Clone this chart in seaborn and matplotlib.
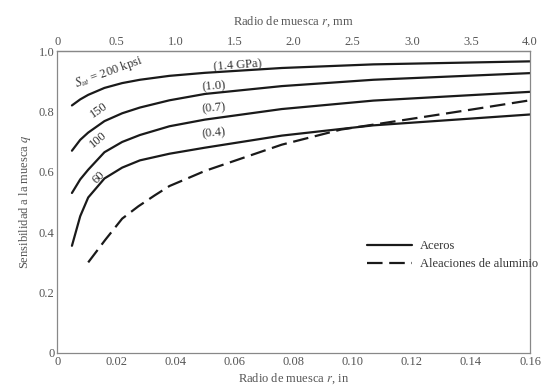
import numpy as np
import pandas as pd
import matplotlib.pyplot as plt
import seaborn as sns

# radio de muesca (in) y sensibilidad q
r_ac = [0.005, 0.0078, 0.0105, 0.016, 0.022, 0.028, 0.038, 0.05, 0.076, 0.107, 0.16]
q_200 = [0.82, 0.840, 0.855, 0.878, 0.894, 0.905, 0.918, 0.928, 0.944, 0.956, 0.966]
q_150 = [0.67, 0.706, 0.73, 0.768, 0.794, 0.813, 0.837, 0.858, 0.884, 0.905, 0.927]
q_100 = [0.53, 0.575, 0.607, 0.665, 0.699, 0.722, 0.751, 0.773, 0.808, 0.836, 0.865]
q_60 = [0.355, 0.453, 0.515, 0.578, 0.614, 0.638, 0.660, 0.68, 0.72, 0.754, 0.79]

r_al = [0.0105, 0.0163, 0.022, 0.0275, 0.033, 0.038, 0.0445, 0.05, 0.076, 0.096, 0.1175, 0.14, 0.16]
q_al = [0.30, 0.375, 0.445, 0.486, 0.522, 0.553, 0.58, 0.603, 0.69, 0.74, 0.772, 0.806, 0.837]

curvas = {"200": (r_ac, q_200, "Aceros"), "150": (r_ac, q_150, "Aceros"),
          "100": (r_ac, q_100, "Aceros"), "60": (r_ac, q_60, "Aceros"),
          "al": (r_al, q_al, "Aleaciones de aluminio")}
filas = []
for k, (rr, qq, mat) in curvas.items():
    for a, b in zip(rr, qq):
        filas.append({"r": a, "q": b, "curva": k, "material": mat})
df = pd.DataFrame(filas)

xticks = [0, 0.02, 0.04, 0.06, 0.08, 0.10, 0.12, 0.14, 0.16]
xlabels = ["0", "0.02", "0.04", "0.06", "0.08", "0.10", "0.12", "0.14", "0.16"]
yticks = [0, 0.2, 0.4, 0.6, 0.8, 1.0]
ylabels = ["0", "0.2", "0.4", "0.6", "0.8", "1.0"]
mm_ticks = [0, 0.5, 1.0, 1.5, 2.0, 2.5, 3.0, 3.5, 4.0]
mm_labels = ["0", "0.5", "1.0", "1.5", "2.0", "2.5", "3.0", "3.5", "4.0"]

sns.set_style("white")
plt.rcParams['font.family'] = ['Liberation Serif', 'DejaVu Serif']
plt.rcParams['mathtext.fontset'] = 'stix'
gris = "#555555"

fig = plt.figure(figsize=(5.55, 3.9), dpi=100)
ax = fig.add_axes([0.103, 0.095, 0.852, 0.774])

sns.lineplot(data=df, x="r", y="q", units="curva", style="material",
             estimator=None, color="#1a1a1a", linewidth=1.6, ax=ax,
             dashes={"Aceros": "", "Aleaciones de aluminio": (7, 3)})

ax.set_xlim(0, 0.16)
ax.set_ylim(0, 1.0)
ax.set_xticks(xticks)
ax.set_xticklabels(xlabels)
ax.set_yticks(yticks)
ax.set_yticklabels(ylabels)
ax.tick_params(labelsize=9, colors=gris, length=2, direction="in", pad=2)
ax.set_xlabel("Radio de muesca $r$, in", fontsize=9, color=gris, labelpad=3)
ax.set_ylabel("Sensibilidad a la muesca $q$", fontsize=9, color=gris, labelpad=4)
for s in ax.spines.values():
    s.set_color("#888888")
    s.set_linewidth(0.9)

sec = ax.secondary_xaxis("top", functions=(lambda x: x * 25, lambda x: x / 25))
sec.set_xticks(mm_ticks)
sec.set_xticklabels(mm_labels)
sec.tick_params(labelsize=9, colors=gris, length=0, pad=2)
sec.set_xlabel("Radio de muesca $r$, mm", fontsize=9, color=gris, labelpad=8)

# etiquetas de las curvas
ax.text(0.0175, 0.930, "$S_{ut}$ = 200 kpsi", fontsize=9, color="#333333",
        rotation=20, ha="center", va="center")
ax.text(0.061, 0.952, "(1.4 GPa)", fontsize=9, color="#333333", rotation=4, ha="center", va="center")
ax.text(0.0140, 0.805, "150", fontsize=9, color="#333333", rotation=35, ha="center", va="center")
ax.text(0.053, 0.882, "(1.0)", fontsize=9, color="#333333", rotation=4, ha="center", va="center")
ax.text(0.0140, 0.705, "100", fontsize=9, color="#333333", rotation=40, ha="center", va="center")
ax.text(0.053, 0.810, "(0.7)", fontsize=9, color="#333333", rotation=5, ha="center", va="center")
ax.text(0.0140, 0.580, "60", fontsize=9, color="#333333", rotation=45, ha="center", va="center")
ax.text(0.053, 0.728, "(0.4)", fontsize=9, color="#333333", rotation=5, ha="center", va="center")

leg = ax.legend(loc="upper left", bbox_to_anchor=(0.645, 0.39), frameon=False,
                fontsize=9, handlelength=3.6, handletextpad=0.6, labelspacing=0.5,
                borderaxespad=0)
for t in leg.get_texts():
    t.set_color("#333333")
for h in leg.get_lines():
    h.set_color("#1a1a1a")

fig.savefig("out.png", dpi=100)
